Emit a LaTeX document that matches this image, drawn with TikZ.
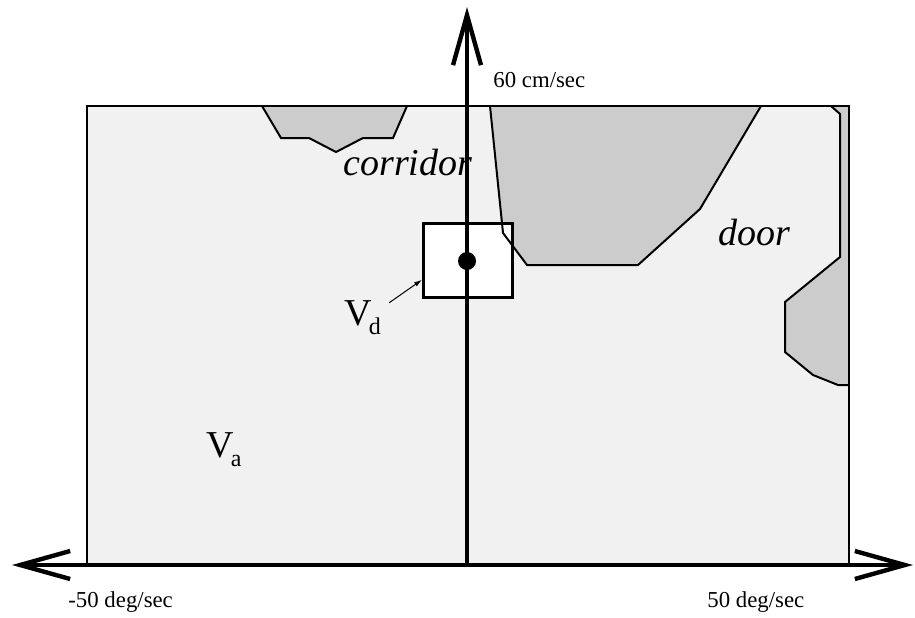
\documentclass[tikz,border=0pt]{standalone}
\usepackage{fontspec}
\setmainfont{Liberation Serif}
\usepackage{tikz}
\usetikzlibrary{
  arrows.meta,  % Straight Barb 箭头
  calc,         % 坐标计算
  positioning   % 节点相对定位
}
\definecolor{panelgray}{gray}{0.945}
\definecolor{blobgray}{gray}{0.8}
\newcommand{\velsub}[1]{V\kern-1.5pt\raisebox{-4.5pt}{\fontsize{12}{14}\selectfont #1}}
\tikzset{
  axishead/.tip={Straight Barb[length=25pt,width=14pt]},
  axis line/.style={
    line width=2.2pt,
    color=black
  },
  panel edge/.style={
    line width=0.9pt
  },
  obstacle edge/.style={
    line width=1pt,
    line join=miter
  },
  window box/.style={
    draw,
    fill=white,
    line width=1.5pt,
    minimum width=44.5pt,
    minimum height=37pt,
    inner sep=0pt
  },
  vel dot/.style={
    circle,
    fill=black,
    inner sep=0pt,
    minimum size=9pt
  },
  axis label/.style={
    font=\fontsize{11.4}{13}\selectfont,
    inner sep=0pt
  },
  region label/.style={
    font=\fontsize{19}{23}\selectfont\itshape,
    inner sep=0pt
  },
  vel label/.style={
    font=\fontsize{19}{23}\selectfont,
    inner sep=0pt
  },
  pointer/.style={
    -{Latex[length=4pt,width=2.5pt]},
    line width=0.5pt
  }
}

\begin{document}
\begin{tikzpicture}[x=0.5pt, y=-0.5pt]
  \useasboundingbox (0,0) rectangle (915,617);

  % 1. 浅灰色速度空间底面
  \fill[panelgray] (87,106) rectangle (849,565);

  % 2. 深灰色障碍区域（只填充，轮廓后画）
  \fill[blobgray] (262,106) -- (281,138) -- (309,138) -- (336,152) -- (363,138) -- (393,138) -- (407,106) -- cycle;
  \fill[blobgray] (490,106) -- (503,233) -- (527,265) -- (638,265) -- (700,209) -- (761,106) -- cycle;
  \fill[blobgray] (831,106) -- (840,114) -- (840,257) -- (785,302) -- (785,352) -- (813,375) -- (838,385) -- (849,385) -- (849,106) -- cycle;

  % 3. V_d 动态窗口（白底）
  \node[window box] (vdbox) at (468,260.5) {};

  % 4. 障碍轮廓与外框
  \draw[obstacle edge] (262,106) -- (281,138) -- (309,138) -- (336,152) -- (363,138) -- (393,138) -- (407,106);
  \draw[obstacle edge] (490,106) -- (503,233) -- (527,265) -- (638,265) -- (700,209) -- (761,106);
  \draw[obstacle edge] (831,106) -- (840,114) -- (840,257) -- (785,302) -- (785,352) -- (813,375) -- (838,385) -- (849,385);
  \draw[panel edge] (87,106) rectangle (849,565);

  % 5. 文字标注
  \node[axis label, anchor=base west] (ylabel) at (493,87) {60 cm/sec};
  \node[axis label, anchor=base west] (xneglabel) at (68,607) {-50 deg/sec};
  \node[axis label, anchor=base west] (xposlabel) at (707,607) {50 deg/sec};
  \node[region label, anchor=base west] (corridorlabel) at (343,175) {corridor};
  \node[region label, anchor=base west] (doorlabel) at (718,245) {door};
  \node[vel label, anchor=base west] (vdlabel) at (344,325) {\velsub{d}};
  \node[vel label, anchor=base west] (valabel) at (206,457) {\velsub{a}};

  % 6. 坐标轴（压在文字上方）
  \coordinate (origin) at (467,565);
  \coordinate (xneg) at (12,565);
  \coordinate (xpos) at (913,565);
  \coordinate (ytop) at (467,7);
  \draw[axis line, arrows={axishead-axishead}] (xneg) -- (xpos);
  \draw[axis line, arrows={-axishead}] (origin) -- (ytop);

  % 7. 当前速度点与指向窗口的小箭头
  \node[vel dot] (vdcenter) at (467,261) {};
  \draw[pointer] ([shift={(4pt,-1.5pt)}]vdlabel.north east) -- ($(vdbox.south west)!0.25!(vdbox.north west)$);

\end{tikzpicture}
\end{document}
